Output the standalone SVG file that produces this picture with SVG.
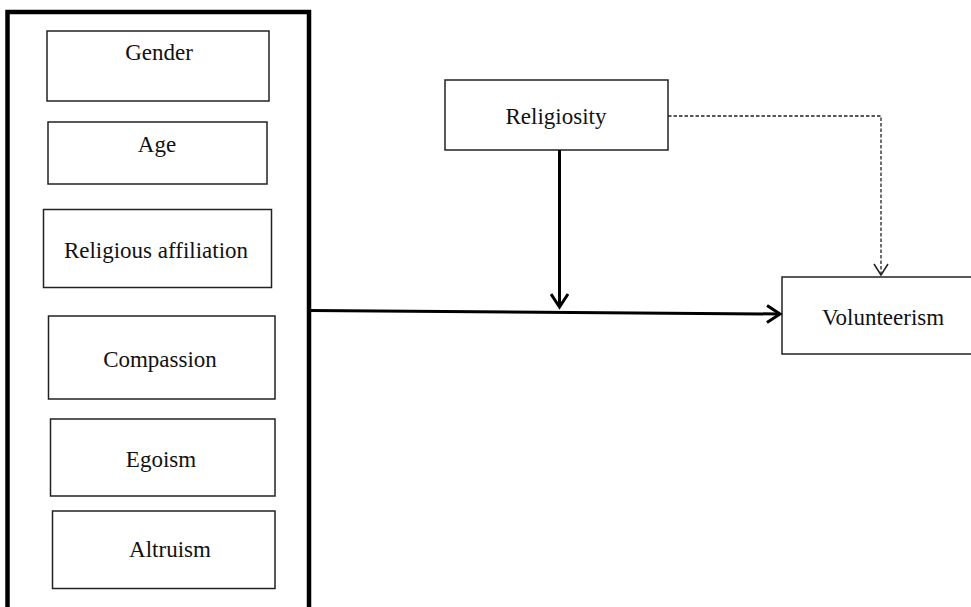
<svg xmlns="http://www.w3.org/2000/svg" width="971" height="607" viewBox="0 0 971 607">
<style>
.box{fill:#fff;stroke:#222;stroke-width:1.5}
.lbl{font-family:"Liberation Serif","Times New Roman",serif;font-size:23px;fill:#111;text-anchor:middle}
.thick{fill:none;stroke:#000;stroke-width:3}
.dash{fill:none;stroke:#222;stroke-width:1.3;stroke-dasharray:3.5 2}
</style>
<defs>
<marker id="openArrow" markerUnits="userSpaceOnUse" markerWidth="20" markerHeight="20" refX="14" refY="10" orient="auto" viewBox="0 0 20 20">
<path d="M1,1.5 L14,10 L1,18.5" fill="none" stroke="#000" stroke-width="3"/>
</marker>
<marker id="openArrowThin" markerUnits="userSpaceOnUse" markerWidth="16" markerHeight="16" refX="12" refY="8" orient="auto" viewBox="0 0 16 16">
<path d="M1,1 L12,8 L1,15" fill="none" stroke="#222" stroke-width="1.5"/>
</marker>
</defs>
<rect width="971" height="607" fill="#fff"/>
<g id="container">
<path d="M7.5,620 L7.5,12 L309,12 L309,620" fill="none" stroke="#000" stroke-width="4.5"/>
</g>
<g id="gender"><rect class="box" x="47" y="31" width="222" height="70"/><text class="lbl" x="159" y="60">Gender</text></g>
<g id="age"><rect class="box" x="48" y="122" width="219" height="62"/><text class="lbl" x="157" y="152">Age</text></g>
<g id="religious-affiliation"><rect class="box" x="43.5" y="209.5" width="228" height="78"/><text class="lbl" x="156" y="258">Religious affiliation</text></g>
<g id="compassion"><rect class="box" x="48.5" y="316" width="226.5" height="83"/><text class="lbl" x="160" y="367">Compassion</text></g>
<g id="egoism"><rect class="box" x="50.5" y="419" width="224.5" height="77"/><text class="lbl" x="161" y="467">Egoism</text></g>
<g id="altruism"><rect class="box" x="52.5" y="511" width="222.5" height="77.5"/><text class="lbl" x="170" y="557">Altruism</text></g>
<g id="religiosity"><rect class="box" x="445" y="80" width="223" height="70"/><text class="lbl" x="556" y="124">Religiosity</text></g>
<g id="volunteerism"><rect class="box" x="782" y="277" width="195" height="77"/><text class="lbl" x="883" y="325">Volunteerism</text></g>
<g id="connectors">
<line class="thick" x1="311" y1="310.5" x2="780" y2="314" marker-end="url(#openArrow)"/>
<line class="thick" x1="559.5" y1="150" x2="559.5" y2="307" marker-end="url(#openArrow)"/>
<path class="dash" d="M668,116 L881,116 L881,275" marker-end="url(#openArrowThin)"/>
</g>
</svg>
